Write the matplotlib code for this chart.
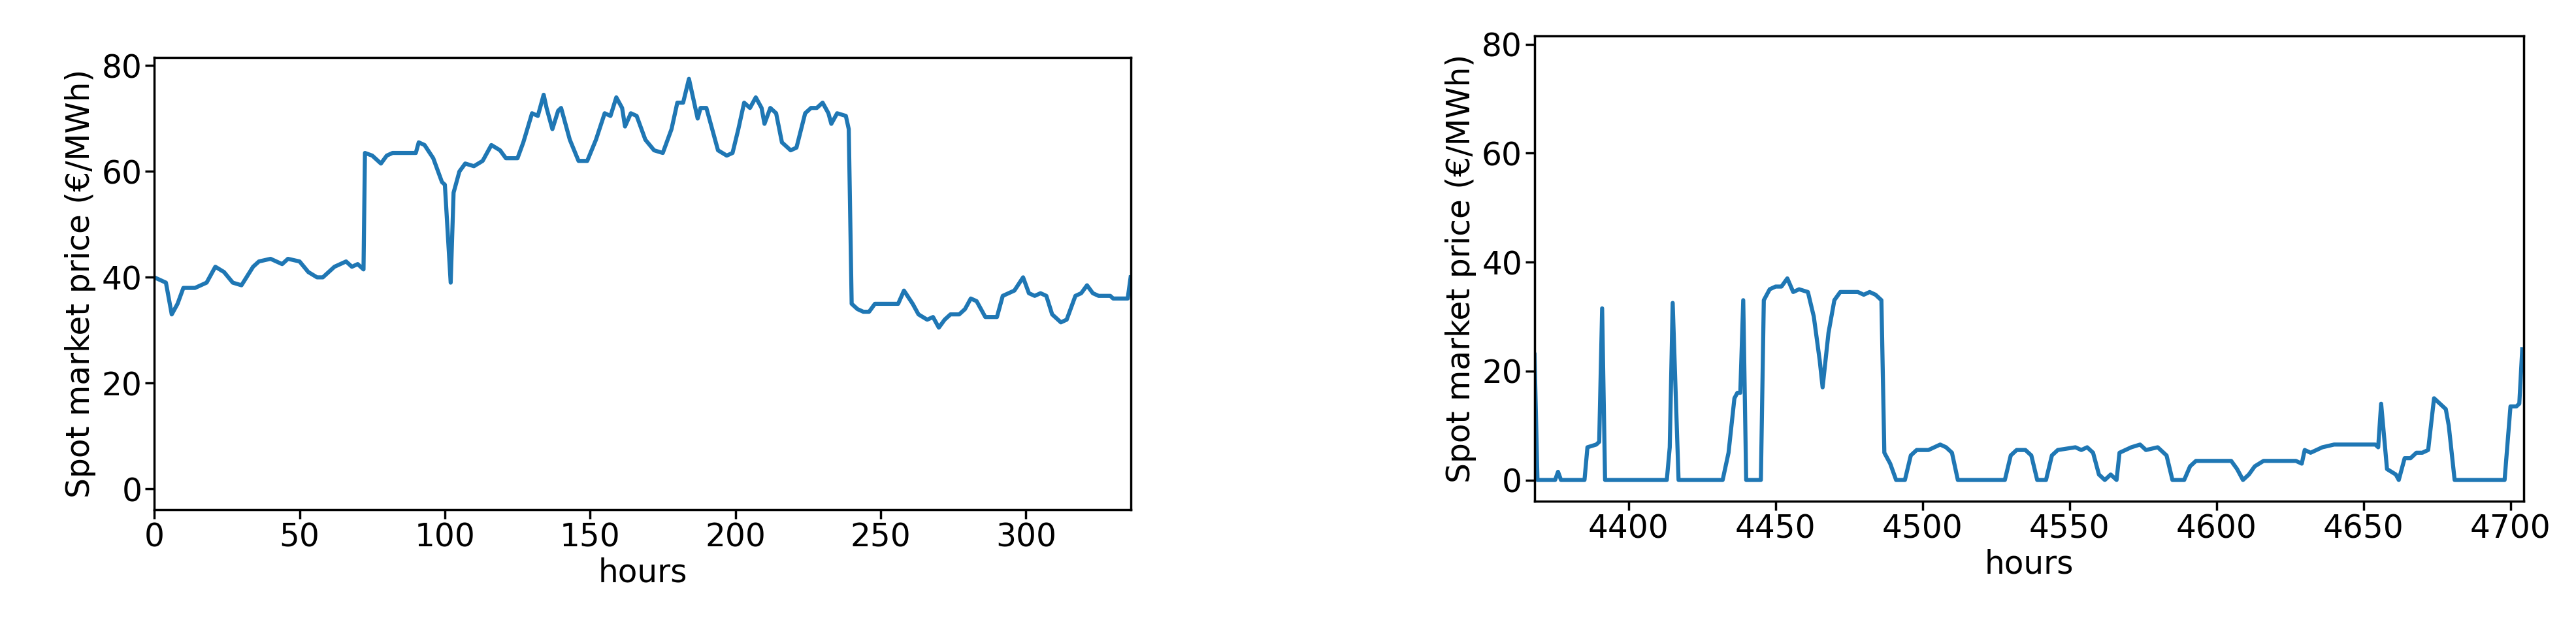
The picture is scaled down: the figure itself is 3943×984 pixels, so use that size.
import matplotlib
matplotlib.use("Agg")
import matplotlib.pyplot as plt

# left panel: first two weeks
hours_a = [0, 4, 6, 8, 10, 14, 18, 21, 24, 27, 30, 34, 36, 40, 44, 46, 50, 53, 56, 58, 62, 64, 66, 68, 70, 72,
           72.5, 75, 78, 80, 82, 90, 91, 93, 96, 99, 100, 102, 103, 105, 107, 110, 113, 116, 119, 121, 125, 127,
           130, 132, 134, 135, 137, 139, 140, 143, 146, 149, 152, 155, 157, 159, 161, 162, 164, 166, 169, 172,
           175, 178, 180, 182, 184, 185, 187, 188, 190, 192, 194, 197, 199, 201, 203, 205, 207, 209, 210, 212,
           214, 216, 219, 221, 224, 226, 228, 230, 232, 233, 235, 238, 239, 240, 242, 244, 246, 248, 250, 252,
           256, 258, 261, 263, 266, 268, 270, 272, 274, 277, 279, 281, 283, 286, 290, 292, 294, 296, 299, 301,
           303, 305, 307, 309, 312, 314, 317, 319, 321, 323, 325, 329, 330, 335, 336]
price_a = [40, 39, 33, 35, 38, 38, 39, 42, 41, 39, 38.5, 42, 43, 43.5, 42.5, 43.5, 43, 41, 40, 40, 42, 42.5, 43, 42,
           42.5, 41.5, 63.5, 63, 61.5, 63, 63.5, 63.5, 65.5, 65, 62.5, 58, 57.5, 39, 56, 60, 61.5, 61, 62, 65, 64,
           62.5, 62.5, 65.5, 71, 70.5, 74.5, 72, 68, 71.5, 72, 66, 62, 62, 66, 71, 70.5, 74, 72, 68.5, 71, 70.5,
           66, 64, 63.5, 68, 73, 73, 77.5, 75, 70, 72, 72, 68, 64, 63, 63.5, 68, 73, 72, 74, 72, 69, 72, 71,
           65.5, 64, 64.5, 71, 72, 72, 73, 71, 69, 71, 70.5, 68, 35, 34, 33.5, 33.5, 35, 35, 35, 35, 37.5, 35,
           33, 32, 32.5, 30.5, 32, 33, 33, 34, 36, 35.5, 32.5, 32.5, 36.5, 37, 37.5, 40, 37, 36.5, 37, 36.5, 33,
           31.5, 32, 36.5, 37, 38.5, 37, 36.5, 36.5, 36, 36, 40]

# right panel: summer weeks
hours_b = [4368, 4369, 4375, 4376, 4377, 4385, 4386, 4389, 4390, 4391, 4392, 4413, 4414, 4415, 4417, 4432, 4434,
           4436, 4437, 4438, 4439, 4440, 4445, 4446, 4448, 4450, 4452, 4454, 4456, 4458, 4461, 4463, 4465, 4466,
           4468, 4470, 4472, 4476, 4478, 4480, 4482, 4484, 4486, 4487, 4489, 4491, 4494, 4496, 4498, 4502, 4506,
           4508, 4510, 4512, 4528, 4530, 4532, 4535, 4537, 4539, 4542, 4544, 4546, 4552, 4554, 4556, 4558, 4560,
           4562, 4564, 4566, 4567, 4571, 4574, 4576, 4580, 4583, 4585, 4589, 4591, 4593, 4605, 4607, 4609, 4611,
           4613, 4616, 4627, 4629, 4630, 4632, 4636, 4640, 4654, 4655, 4656, 4658, 4661, 4662, 4664, 4666, 4668,
           4670, 4672, 4674, 4676, 4678, 4679, 4681, 4698, 4700, 4702, 4703, 4704]
price_b = [23, 0, 0, 1.5, 0, 0, 6, 6.5, 7, 31.5, 0, 0, 6, 32.5, 0, 0, 5, 15, 16, 16, 33, 0, 0, 33, 35, 35.5, 35.5,
           37, 34.5, 35, 34.5, 30, 22, 17, 27, 33, 34.5, 34.5, 34.5, 34, 34.5, 34, 33, 5, 3, 0, 0, 4.5, 5.5, 5.5,
           6.5, 6, 5, 0, 0, 4.5, 5.5, 5.5, 4.5, 0, 0, 4.5, 5.5, 6, 5.5, 6, 5, 1, 0, 1, 0, 5, 6, 6.5, 5.5, 6, 4.5,
           0, 0, 2.5, 3.5, 3.5, 2, 0, 1, 2.5, 3.5, 3.5, 3, 5.5, 5, 6, 6.5, 6.5, 6, 14, 2, 1, 0, 4, 4, 5, 5, 5.5,
           15, 14, 13, 10, 0, 0, 13.5, 13.5, 14, 24]

plt.rcParams['font.size'] = 35
fig = plt.figure(figsize=(39.43, 9.84), dpi=100)
ax1 = fig.add_axes([0.0599, 0.2073, 0.379, 0.703])
ax2 = fig.add_axes([0.5957, 0.2205, 0.384, 0.7236])

for ax, x, y, xlim in [(ax1, hours_a, price_a, (0, 336)), (ax2, hours_b, price_b, (4368, 4704.5))]:
    ax.plot(x, y, color='#1f77b4', linewidth=4.5)
    ax.set_xlim(*xlim)
    ax.set_ylim(-3.9, 81.5)
    ax.set_yticks([0, 20, 40, 60, 80])
    ax.set_xlabel('hours', labelpad=4)
    ax.set_ylabel('Spot market price (€/MWh)', labelpad=6)
    ax.tick_params(width=2.5, length=10)
    for s in ax.spines.values():
        s.set_linewidth(2.5)

ax2.set_xticks([4400, 4450, 4500, 4550, 4600, 4650, 4700])

fig.savefig('out.png', dpi=100)
